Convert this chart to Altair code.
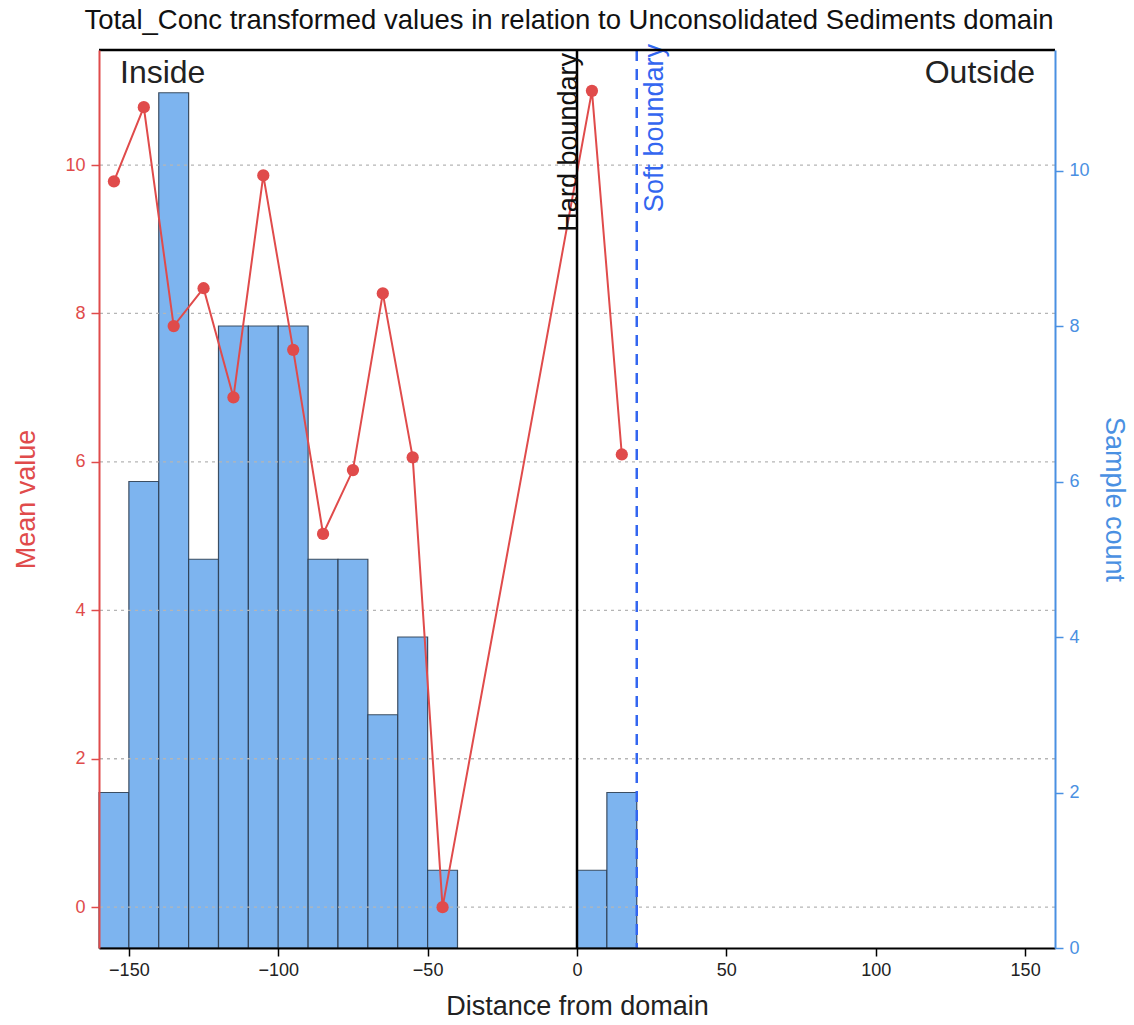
import altair as alt
import pandas as pd

# Histogram bins (10 units wide) and how many samples fall in each
bin_start = [-160, -150, -140, -130, -120, -110, -100, -90, -80, -70, -60, -50, 0, 10]
bin_end = [-150, -140, -130, -120, -110, -100, -90, -80, -70, -60, -50, -40, 10, 20]
sample_count = [2, 6, 11, 5, 8, 8, 8, 5, 5, 3, 4, 1, 1, 2]

# Mean transformed value per bin, placed at the bin centre
bin_center = [-155, -145, -135, -125, -115, -105, -95, -85, -75, -65, -55, -45, 5, 15]
mean_value = [9.78, 10.78, 7.83, 8.34, 6.87, 9.86, 7.51, 5.03, 5.89, 8.27, 6.06, 0.0, 11.0, 6.1]

x_ticks = [-150, -100, -50, 0, 50, 100, 150]
y_ticks = [0, 2, 4, 6, 8, 10]

hard_boundary = 0
soft_boundary = 20

RED = "#e04b4b"
BLUE = "#4a90e2"
DASH_BLUE = "#3366f0"
FONT = "Liberation Sans"
W, H = 956, 898

bars_df = pd.DataFrame({"start": bin_start, "end": bin_end, "count": sample_count})
means_df = pd.DataFrame({"center": bin_center, "mean": mean_value})
grid_df = pd.DataFrame({"tick": y_ticks})
hard_df = pd.DataFrame({"pos": [hard_boundary], "label": ["Hard boundary"]})
soft_df = pd.DataFrame({"pos": [soft_boundary], "label": ["Soft boundary"]})

x_scale = alt.Scale(domain=[-160, 160], nice=False, zero=False)
mean_scale = alt.Scale(domain=[-0.55, 11.55], nice=False, zero=False)
count_scale = alt.Scale(domain=[0, 11.55], nice=False, zero=True)

x_axis = alt.Axis(
    values=x_ticks, grid=False, title="Distance from domain", zindex=2,
    domainColor="black", domainWidth=2, tickColor="black", tickSize=8, tickWidth=1.5,
    labelFontSize=18, labelColor="#222222", labelPadding=5, labelFont=FONT,
    labelExpr="replace(datum.label, '-', '\u2212')",
    titleFontSize=27, titleColor="#222222", titleFontWeight="normal", titlePadding=14, titleFont=FONT,
)


def xenc(field):
    return alt.X(f"{field}:Q", scale=x_scale, axis=x_axis, title="Distance from domain")


# Sample-count histogram on the right-hand axis
bars = alt.Chart(bars_df).mark_bar(
    color="#7db4ef", stroke="#2c3e52", strokeWidth=1.2, strokeOpacity=0.9
).encode(
    x=xenc("start"),
    x2="end:Q",
    y=alt.Y(
        "count:Q", scale=count_scale,
        axis=alt.Axis(
            orient="right", values=y_ticks, grid=False, title="Sample count", zindex=2,
            domainColor=BLUE, domainWidth=2, tickColor=BLUE, tickSize=8, tickWidth=1.5,
            labelColor=BLUE, labelFontSize=18, labelPadding=6, labelFont=FONT,
            titleColor=BLUE, titleFontSize=27, titleFontWeight="normal", titlePadding=10, titleFont=FONT,
        ),
    ),
    y2=alt.datum(0),
)

# Dotted horizontal grid on the mean-value ticks
grid = alt.Chart(grid_df).mark_rule(
    color="#b5b5b5", strokeDash=[3, 4], strokeWidth=1.3
).encode(
    y=alt.Y("tick:Q", scale=mean_scale, axis=None),
)

# Mean value line with markers on the left-hand axis
line = alt.Chart(means_df).mark_line(color=RED, strokeWidth=2).encode(
    x=xenc("center"),
    y=alt.Y(
        "mean:Q", scale=mean_scale,
        axis=alt.Axis(
            orient="left", values=y_ticks, grid=False, title="Mean value", zindex=2,
            domainColor=RED, domainWidth=2, tickColor=RED, tickSize=8, tickWidth=1.5,
            labelColor=RED, labelFontSize=18, labelPadding=6, labelFont=FONT,
            titleColor=RED, titleFontSize=27, titleFontWeight="normal", titlePadding=24, titleFont=FONT,
        ),
    ),
)
points = alt.Chart(means_df).mark_circle(color=RED, opacity=1, size=150).encode(
    x=xenc("center"),
    y=alt.Y("mean:Q", scale=mean_scale, axis=None),
)

# Domain boundaries
hard_rule = alt.Chart(hard_df).mark_rule(color="black", strokeWidth=2.5).encode(x=xenc("pos"))
soft_rule = alt.Chart(soft_df).mark_rule(
    color=DASH_BLUE, strokeWidth=2.5, strokeDash=[11, 8]
).encode(x=xenc("pos"))

hard_text = alt.Chart(hard_df).mark_text(
    angle=270, align="right", baseline="alphabetic", fontSize=27, font=FONT,
    color="#111111", dx=-3, dy=0,
).encode(x=xenc("pos"), y=alt.value(0), text="label:N")
soft_text = alt.Chart(soft_df).mark_text(
    angle=270, align="right", baseline="top", fontSize=27, font=FONT,
    color=DASH_BLUE, dx=6, dy=5,
).encode(x=xenc("pos"), y=alt.value(0), text="label:N")

inside_text = alt.Chart(pd.DataFrame({"t": ["Inside"]})).mark_text(
    align="left", baseline="alphabetic", fontSize=32, font=FONT, color="#222222"
).encode(x=alt.value(21), y=alt.value(33), text="t:N")
outside_text = alt.Chart(pd.DataFrame({"t": ["Outside"]})).mark_text(
    align="right", baseline="alphabetic", fontSize=32, font=FONT, color="#222222"
).encode(x=alt.value(936), y=alt.value(33), text="t:N")

# Black frame edge along the top of the plot
top_edge = alt.Chart(pd.DataFrame({"e": [0]})).mark_rule(color="black", strokeWidth=2.5).encode(
    x=alt.value(0), x2=alt.value(W), y=alt.value(0)
)

chart = alt.layer(
    bars, grid, line, points, hard_rule, soft_rule, hard_text, soft_text,
    inside_text, outside_text, top_edge,
).resolve_scale(y="independent").resolve_axis(y="independent").properties(
    width=W,
    height=H,
    autosize=alt.AutoSizeParams(type="none"),
    padding={"left": 99, "top": 50, "right": 79, "bottom": 77},
    title=alt.TitleParams(
        "Total_Conc transformed values in relation to Unconsolidated Sediments domain",
        fontSize=27.5, font=FONT, fontWeight="normal", color="#111111", anchor="middle",
        offset=10, dx=-8,
    ),
).configure_view(stroke=None).configure(background="white")

chart.save("out.html", embed_options={"renderer": "svg", "actions": False})
